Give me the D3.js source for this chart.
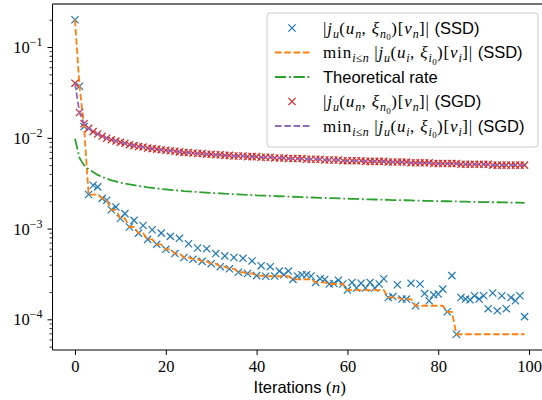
<!DOCTYPE html>
<html><head><meta charset="utf-8">
<script src="https://cdn.jsdelivr.net/npm/d3@7/dist/d3.min.js"></script>
<style>body{margin:0;background:#fff}svg{display:block}</style>
</head><body>
<svg id="c" width="542" height="400"></svg>
<script>
// ---- data ----
const iterations = d3.range(0, 100);
const ssdValues = [
0.2, 0.037, 0.0133, 0.00237, 0.0030, 0.00288, 0.00215, 0.00205, 0.00161, 0.00173,
0.00129, 0.00146, 0.00104, 0.00123, 0.00089, 0.00108, 0.00076, 0.00097, 0.00067, 0.00089,
0.00059, 0.00082, 0.00053, 0.00078, 0.00048, 0.00068, 0.00046, 0.00061, 0.000435, 0.00060,
0.00041, 0.00053, 0.00038, 0.00050, 0.00036, 0.00048, 0.00033, 0.00047, 0.00032, 0.00044,
0.000303, 0.00039, 0.000298, 0.00038, 0.00030, 0.00034, 0.00031, 0.00034, 0.000275, 0.00030,
0.00031, 0.00031, 0.00030, 0.000255, 0.00028, 0.000275, 0.000245, 0.000248, 0.00027, 0.000245,
0.00021, 0.000255, 0.000221, 0.00025, 0.000221, 0.000255, 0.000221, 0.000245, 0.00028, 0.000174,
0.000178, 0.00024, 0.000167, 0.000167, 0.00025, 0.000141, 0.000245, 0.000192, 0.00016, 0.000186,
0.00019, 0.000215, 0.000121, 0.000303, 0.0000684, 0.000174, 0.000167, 0.000164, 0.000182, 0.000167,
0.000182, 0.000131, 0.000195, 0.000124, 0.000182, 0.000131, 0.000174, 0.00016, 0.000182, 0.000107
];
const sgdValues = [
0.040, 0.019, 0.0143, 0.0127, 0.0117, 0.0110, 0.0104, 0.0099, 0.0095, 0.0092,
0.0089, 0.0087, 0.0084, 0.0082, 0.0080, 0.0079, 0.0077, 0.0076, 0.0075, 0.0074,
0.0073, 0.0072, 0.0071, 0.0070, 0.0069, 0.0069, 0.0068, 0.0067, 0.0067, 0.0066,
0.0066, 0.0065, 0.0065, 0.0064, 0.0064, 0.0063, 0.0063, 0.0063, 0.0062, 0.0062,
0.0062, 0.0061, 0.0061, 0.0061, 0.0060, 0.0060, 0.0060, 0.0059, 0.0059, 0.0059,
0.0059, 0.0058, 0.0058, 0.0058, 0.0058, 0.0057, 0.0057, 0.0057, 0.0057, 0.0056,
0.0056, 0.0056, 0.0056, 0.0056, 0.0055, 0.0055, 0.0055, 0.0055, 0.0055, 0.0054,
0.0054, 0.0054, 0.0054, 0.0054, 0.0053, 0.0053, 0.0053, 0.0053, 0.0053, 0.0052,
0.0052, 0.0052, 0.0052, 0.0052, 0.0052, 0.0051, 0.0051, 0.0051, 0.0051, 0.0051,
0.0051, 0.0051, 0.0050, 0.0050, 0.0050, 0.0050, 0.0050, 0.0050, 0.0050, 0.0050
];
const theoreticalRate = [
0.0098, 0.0060, 0.0050, 0.0045, 0.0042, 0.0039, 0.0037, 0.00355, 0.0034, 0.0033,
0.0032, 0.00314, 0.00307, 0.00301, 0.00295, 0.0029, 0.00285, 0.00281, 0.00277, 0.00273,
0.0027, 0.00267, 0.00264, 0.00262, 0.00259, 0.00257, 0.00255, 0.00253, 0.00251, 0.00249,
0.00247, 0.00245, 0.00244, 0.00242, 0.00241, 0.00239, 0.00238, 0.00236, 0.00235, 0.00234,
0.00232, 0.00231, 0.0023, 0.00229, 0.00228, 0.00227, 0.00226, 0.00225, 0.00224, 0.00223,
0.00222, 0.00221, 0.0022, 0.00219, 0.00218, 0.00217, 0.00216, 0.00216, 0.00215, 0.00214,
0.00213, 0.00212, 0.00212, 0.00211, 0.0021, 0.0021, 0.00209, 0.00208, 0.00208, 0.00207,
0.00206, 0.00206, 0.00205, 0.00205, 0.00204, 0.00203, 0.00203, 0.00202, 0.00202, 0.00201,
0.00201, 0.002, 0.002, 0.00199, 0.00199, 0.00198, 0.00198, 0.00197, 0.00197, 0.00196,
0.00196, 0.00196, 0.00195, 0.00195, 0.00194, 0.00194, 0.00193, 0.00193, 0.00193, 0.00192
];
const xTicks = [0, 20, 40, 60, 80, 100];
const yTickExponents = [-1, -2, -3, -4];

// running minimum
function runMin(a){ let m = Infinity; return a.map(v => (m = Math.min(m, v))); }
const ssdMin = runMin(ssdValues);
const sgdMin = runMin(sgdValues);

// ---- layout ----
const L = 52.5, R = 547, T = 4, B = 350;
const svg = d3.select('#c');

const xExt = d3.extent(iterations), xm = (xExt[1]-xExt[0])*0.05;
const x = d3.scaleLinear().domain([xExt[0]-xm, xExt[1]+xm]).range([L, R]);
const all = ssdValues.concat(sgdValues, theoreticalRate);
const lo = Math.log10(d3.min(all)), hi = Math.log10(d3.max(all)), ym = (hi-lo)*0.05;
const y = d3.scaleLog().domain([Math.pow(10, lo-ym), Math.pow(10, hi+ym)]).range([B, T]);

const C = {blue:'#1f77b4', orange:'#ff7f0e', green:'#2ca02c', red:'#d62728', purple:'#9467bd'};
const SERIF = "'Liberation Serif', 'DejaVu Serif', serif";
const SANS = "'Liberation Sans', Arial, sans-serif";

svg.append('defs').append('clipPath').attr('id','clip')
  .append('rect').attr('x', L).attr('y', T).attr('width', R-L).attr('height', B-T);
const plot = svg.append('g').attr('clip-path','url(#clip)');

function crosses(g, data, color, s){
  g.selectAll(null).data(data).enter().append('path')
    .attr('d', (d,i) => { const cx = x(iterations[i]), cy = y(d);
      return `M${cx-s},${cy-s}L${cx+s},${cy+s}M${cx-s},${cy+s}L${cx+s},${cy-s}`; })
    .attr('stroke', color).attr('stroke-width', 1.2).attr('fill','none');
}
const line = d3.line().x((d,i) => x(iterations[i])).y(d => y(d));

crosses(plot.append('g'), ssdValues, C.blue, 3.6);
plot.append('path').attr('d', line(ssdMin)).attr('fill','none').attr('stroke', C.orange)
  .attr('stroke-width', 1.8).attr('stroke-dasharray','6.5,2.8');
plot.append('path').attr('d', line(theoreticalRate)).attr('fill','none').attr('stroke', C.green)
  .attr('stroke-width', 1.8).attr('stroke-dasharray','11.2,2.8,1.8,2.8');
crosses(plot.append('g'), sgdValues, C.red, 3.6);
plot.append('path').attr('d', line(sgdMin)).attr('fill','none').attr('stroke', C.purple)
  .attr('stroke-width', 1.8).attr('stroke-dasharray','6.5,2.8');

// ---- axes ----
const xAxis = d3.axisBottom(x).tickValues(xTicks).tickSize(5).tickFormat('');
const gx = svg.append('g').attr('transform', `translate(0,${B})`).call(xAxis);
gx.select('.domain').remove();
gx.selectAll('.tick line').attr('stroke','#000').attr('stroke-width',1);
gx.selectAll('.tick').append('text').attr('y', 21.5).attr('text-anchor','middle')
  .attr('fill','#000').style('font-family', SERIF).style('font-size','16.5px')
  .text(d => d);

const [d0, d1] = y.domain();
const minor = [];
for (let e = Math.floor(Math.log10(d0)); e <= Math.ceil(Math.log10(d1)); e++)
  for (let k = 2; k <= 9; k++){ const v = k*Math.pow(10,e); if (v >= d0 && v <= d1) minor.push(v); }
const gyMinor = svg.append('g').attr('transform', `translate(${L},0)`)
  .call(d3.axisLeft(y).tickValues(minor).tickSize(3).tickFormat(''));
gyMinor.select('.domain').remove();
gyMinor.selectAll('.tick line').attr('stroke','#000').attr('stroke-width',0.8);

const majors = yTickExponents.map(e => Math.pow(10, e));
const gy = svg.append('g').attr('transform', `translate(${L},0)`)
  .call(d3.axisLeft(y).tickValues(majors).tickSize(5).tickFormat(''));
gy.select('.domain').remove();
gy.selectAll('.tick line').attr('stroke','#000').attr('stroke-width',1);
gy.selectAll('.tick').each(function(d){
  const e = Math.round(Math.log10(d));
  const t = d3.select(this).append('text').attr('x', -10).attr('y', 5.5)
    .attr('text-anchor','end').attr('fill','#000').style('font-family', SERIF);
  t.append('tspan').style('font-size','16.5px').text('10');
  t.append('tspan').style('font-size','12px').attr('dy', -7).text('\u2212' + Math.abs(e));
});

// spines
svg.append('line').attr('x1',L).attr('x2',L).attr('y1',T).attr('y2',B).attr('stroke','#000').attr('stroke-width',1);
svg.append('line').attr('x1',L).attr('x2',R).attr('y1',B).attr('y2',B).attr('stroke','#000').attr('stroke-width',1);
svg.append('line').attr('x1',L).attr('x2',R).attr('y1',T).attr('y2',T).attr('stroke','#444').attr('stroke-width',1.4);
svg.append('line').attr('x1',R).attr('x2',R).attr('y1',T).attr('y2',B).attr('stroke','#000').attr('stroke-width',1);

// x label
const xl = svg.append('text').attr('x', (L+R)/2).attr('y', 393).attr('text-anchor','middle')
  .attr('fill','#000').style('white-space','pre');
xl.append('tspan').style('font-family', SANS).style('font-size','16.5px').text('Iterations ');
xl.append('tspan').style('font-family', SERIF).style('font-size','17px').text('(');
xl.append('tspan').style('font-family', SERIF).style('font-style','italic').style('font-size','17px').text('n');
xl.append('tspan').style('font-family', SERIF).style('font-size','17px').text(')');

// ---- legend ----
const lg = svg.append('g');
lg.append('rect').attr('x', 267).attr('y', 13).attr('width', 271).attr('height', 134)
  .attr('rx', 3).attr('fill','#fff').attr('fill-opacity', 0.8).attr('stroke','#ccc').attr('stroke-width',1);

// math text helper: segments [text, kind, level]; kind: 'r' roman, 'i' italic, 's' sans
function richText(g, tx, ty, segs){
  const t = g.append('text').attr('x', tx).attr('y', ty).attr('fill','#000').style('white-space','pre');
  const sizes = [17, 12, 9], shifts = [0, 4, 6.5];
  let cur = 0;
  segs.forEach(([s, kind, lev]) => {
    lev = lev || 0;
    const sp = t.append('tspan').text(s)
      .style('font-family', kind === 's' ? SANS : SERIF)
      .style('font-style', kind === 'i' ? 'italic' : 'normal')
      .style('font-size', (kind === 's' ? 16.5 : sizes[lev]) + 'px')
      .style('letter-spacing', kind === 's' ? '0px' : (lev ? '0.3px' : '0.9px'));
    const dy = shifts[lev] - cur;
    if (dy) sp.attr('dy', dy);
    cur = shifts[lev];
  });
}
function jExpr(idx){
  return [['|','r'],['j','i'],['u','i',1],['(','r'],['u','i'],[idx,'i',1],[', ','r'],['\u03be','i'],
          [idx,'i',1],['0','r',2],[')[','r'],['v','i'],[idx,'i',1],[']|','r']];
}
const rowsY = [28, 52.5, 77, 101.5, 126];
const entries = [
  {type:'x', color:C.blue, segs: jExpr('n').concat([[' (SSD)','s']])},
  {type:'dash', color:C.orange, segs: [['min','r'],['i\u2264n','i',1],[' ','r']].concat(jExpr('i'), [[' (SSD)','s']])},
  {type:'dashdot', color:C.green, segs: [['Theoretical rate','s']]},
  {type:'x', color:C.red, segs: jExpr('n').concat([[' (SGD)','s']])},
  {type:'dash', color:C.purple, segs: [['min','r'],['i\u2264n','i',1],[' ','r']].concat(jExpr('i'), [[' (SGD)','s']])}
];
entries.forEach((e, k) => {
  const cy = rowsY[k];
  if (e.type === 'x'){
    const s = 3.6, cx = 292;
    lg.append('path').attr('d', `M${cx-s},${cy-s}L${cx+s},${cy+s}M${cx-s},${cy+s}L${cx+s},${cy-s}`)
      .attr('stroke', e.color).attr('stroke-width', 1.2);
  } else {
    lg.append('line').attr('x1', 275).attr('x2', 310).attr('y1', cy).attr('y2', cy)
      .attr('stroke', e.color).attr('stroke-width', 1.8)
      .attr('stroke-dasharray', e.type === 'dash' ? '6.5,2.8' : '11.2,2.8,1.8,2.8');
  }
  richText(lg, 323, cy + 5.8, e.segs);
});
</script>
</body></html>
